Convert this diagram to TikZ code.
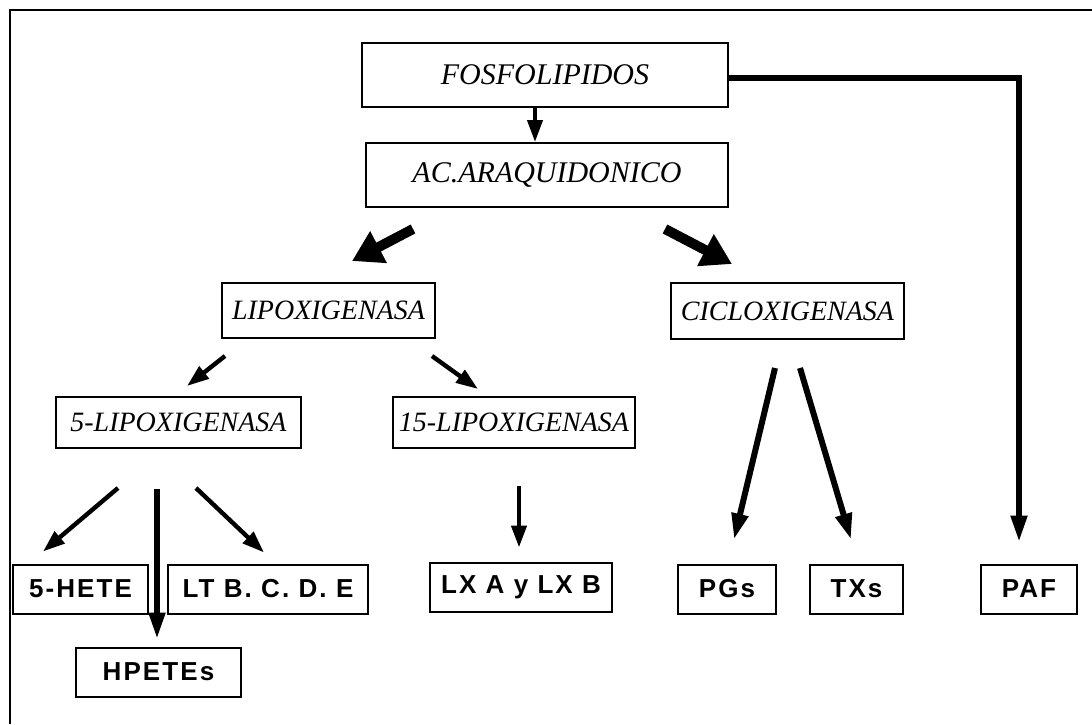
\documentclass[tikz,border=0pt]{standalone}
\usepackage{fontspec}
\setmainfont{Liberation Serif}
\newfontfamily\prodfont[LetterSpace=8]{Liberation Sans}
\usetikzlibrary{positioning}
\usetikzlibrary{arrows.meta}
\usetikzlibrary{calc}

\begin{document}
\begin{tikzpicture}[
  x=0.5pt, y=-0.5pt,
  enzyme/.style={draw, line width=1pt, inner sep=2pt, font=\fontsize{14}{16}\selectfont\itshape},
  topbox/.style={enzyme, font=\fontsize{15}{17}\selectfont\itshape, minimum height=32pt},
  product/.style={draw, line width=1pt, inner sep=2pt, minimum height=24.5pt, font=\prodfont\bfseries\fontsize{13}{15}\selectfont},
  arrow/.style={-{Triangle[length=11pt, width=7.5pt]}, line width=2.2pt},
  bigarrow/.style={-{Triangle[length=15pt, width=17pt]}, line width=5pt},
  longarrow/.style={-{Triangle[length=13pt, width=8pt]}, line width=3pt}
]
\useasboundingbox (0,0) rectangle (1092,724);

% frame
\draw[line width=1.3pt] (10,724) -- (10,10) -- (1092,10);

% enzymes
\node[topbox, minimum width=183pt] (fosf) at (545,75) {FOSFOLIPIDOS};
\node[topbox, minimum width=181pt] (arach) at (547,175) {AC.ARAQUIDONICO};
\node[enzyme, minimum width=106.5pt, minimum height=27.5pt] (lipox) at (328.5,310.5) {LIPOXIGENASA};
\node[enzyme, minimum width=116.5pt, minimum height=28pt] (ciclox) at (787.5,311) {CICLOXIGENASA};
\node[enzyme, minimum width=122.5pt, minimum height=25.5pt] (lipo5) at (178.5,422.5) {5-LIPOXIGENASA};
\node[enzyme, minimum width=121pt, minimum height=25.5pt] (lipo15) at (514,422.5) {15-LIPOXIGENASA};

% products
\node[product, minimum width=67.5pt] (hete) at (80.5,589) {5-HETE};
\node[product, minimum width=100pt] (ltb) at (268,589) {LT B. C. D. E};
\node[product, minimum width=91pt] (lxab) at (521,587) {LX A y LX B};
\node[product, minimum width=49pt] (pgs) at (727,589) {PGs};
\node[product, minimum width=46.5pt] (txs) at (856.5,589) {TXs};
\node[product, minimum width=48pt] (paf) at (1029,589) {PAF};
\node[product, minimum width=82.5pt] (hpetes) at (158.5,672) {HPETEs};

\draw[arrow, line width=2pt] ($(fosf.south)+(-10,0)$) -- ($(arach.north)+(-12,0)$);
\draw[longarrow, line width=2.6pt] ($(fosf.east)+(0,3)$) -| ($(paf.north)+(-10,-22)$);

\draw[bigarrow] ($(arach.south)+(-134,21)$) -- ($(lipox.north)+(23.5,-21)$);
\draw[bigarrow] ($(arach.south)+(118,21)$) -- ($(ciclox.north)+(-55.5,-18)$);

\draw[arrow] ($(lipox.south)+(-103.5,17)$) -- ($(lipo5.north)+(8.5,-10)$);
\draw[arrow] ($(lipox.south)+(103.5,17)$) -- ($(lipo15.north)+(-36,-7)$);

\draw[arrow] ($(lipo5.south)+(-60.5,39)$) -- ($(hete.north)+(-37.5,-12)$);
\draw[longarrow, line width=2.6pt] ($(lipo5.south)+(-21.5,40)$) -- ($(hpetes.north)+(-1.5,-8)$);
\draw[arrow] ($(lipo5.south)+(17.5,39)$) -- ($(ltb.north)+(-4,-11)$);
\draw[arrow] ($(lipo15.south)+(5,37)$) -- ($(lxab.north)+(-2,-14)$);

\draw[longarrow] ($(ciclox.south)+(-12.5,28)$) -- ($(pgs.north)+(7,-24)$);
\draw[longarrow] ($(ciclox.south)+(12.5,28)$) -- ($(txs.north)+(-5.5,-24)$);

\end{tikzpicture}
\end{document}
